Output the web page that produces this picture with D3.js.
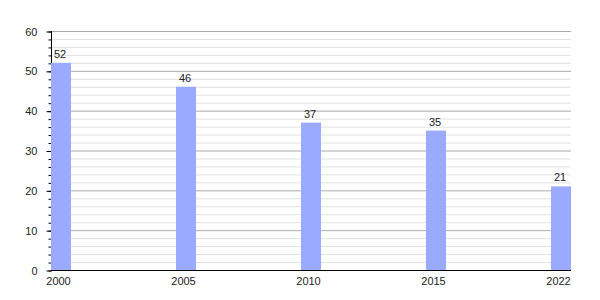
<!DOCTYPE html>
<html><head><meta charset="utf-8">
<script src="https://cdn.jsdelivr.net/npm/d3@7"></script>
<style>body{margin:0;background:#fff}svg{display:block}text{font-family:"Liberation Sans",Arial,sans-serif;font-size:11px;fill:#222}</style>
</head><body><svg id="c" width="600" height="300"></svg>
<script>
const years = ["2000","2005","2010","2015","2022"];
const values = [52,46,37,35,21];
const majorTicks = [0,10,20,30,40,50,60];
const minorTicks = d3.range(0,61,2);

const svg = d3.select("#c");
const x0 = 51, x1 = 571, yTop = 31, yBot = 270, barW = 20;
const x = d3.scalePoint().domain(years).range([x0 + barW/2, x1 - barW/2]);
const y = d3.scaleLinear().domain([0,60]).range([yBot, yTop]);

// minor gridlines
svg.append("g").selectAll("line").data(minorTicks.filter(v => v % 10 !== 0)).join("line")
  .attr("x1", x0).attr("x2", x1).attr("y1", d => y(d)+0.5).attr("y2", d => y(d)+0.5)
  .attr("stroke", "#e2e2e2").attr("stroke-width", 1);
// major gridlines
svg.append("g").selectAll("line").data(majorTicks.filter(v => v > 0)).join("line")
  .attr("x1", x0).attr("x2", x1).attr("y1", d => y(d)+0.5).attr("y2", d => y(d)+0.5)
  .attr("stroke", "#aaaaaa").attr("stroke-width", 1);

// y axis with minor ticks
const yAxisMinor = d3.axisLeft(y).tickValues(minorTicks).tickSize(3).tickFormat("");
svg.append("g").attr("transform", `translate(${x0+0.5},0.5)`).call(yAxisMinor)
  .call(g => g.select(".domain").remove())
  .call(g => g.selectAll("line").attr("stroke", "#000"));
const yAxis = d3.axisLeft(y).tickValues(majorTicks).tickSize(5).tickPadding(9);
svg.append("g").attr("transform", `translate(${x0+0.5},0.5)`).call(yAxis)
  .call(g => g.select(".domain").remove())
  .call(g => g.selectAll("line").attr("stroke", "#000"))
  .call(g => g.selectAll("text").attr("font-size", 11).attr("font-family", null).attr("fill", "#222"));
svg.append("line").attr("x1", x0+0.5).attr("x2", x0+0.5).attr("y1", yTop).attr("y2", yBot+0.5).attr("stroke", "#000");

// bars
svg.append("g").selectAll("rect").data(years).join("rect")
  .attr("x", d => x(d) - barW/2).attr("width", barW)
  .attr("y", (d,i) => y(values[i])).attr("height", (d,i) => yBot - y(values[i]))
  .attr("fill", "#9aabff");

// x axis line
svg.append("line").attr("x1", x0).attr("x2", x1).attr("y1", yBot+0.5).attr("y2", yBot+0.5).attr("stroke", "#000");

// value labels
svg.append("g").selectAll("text").data(years).join("text")
  .attr("x", d => x(d) - 1).attr("y", (d,i) => y(values[i]) - 5)
  .attr("text-anchor", "middle").text((d,i) => values[i]);

// x labels
const xAxis = d3.axisBottom(x).tickSize(0).tickPadding(7);
svg.append("g").attr("transform", `translate(-3,${yBot})`).call(xAxis)
  .call(g => g.select(".domain").remove())
  .call(g => g.selectAll("text").attr("font-size", 11).attr("font-family", null).attr("fill", "#222"));
</script></body></html>
